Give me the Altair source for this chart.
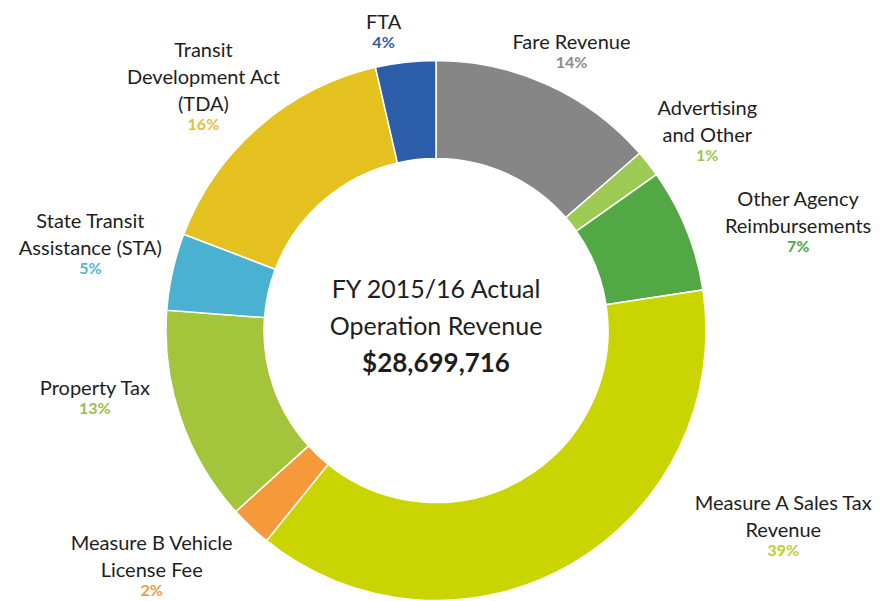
import math
import altair as alt
import pandas as pd

# ---- data -------------------------------------------------------------
categories = [
    "Fare Revenue",
    "Advertising and Other",
    "Other Agency Reimbursements",
    "Measure A Sales Tax Revenue",
    "Measure B Vehicle License Fee",
    "Property Tax",
    "State Transit Assistance (STA)",
    "Transit Development Act (TDA)",
    "FTA",
]
shares = [13.6, 1.6, 7.4, 38.2, 2.5, 12.9, 4.6, 15.6, 3.6]
pct_labels = ["14%", "1%", "7%", "39%", "2%", "13%", "5%", "16%", "4%"]
label_text = [
    "Fare Revenue",
    "Advertising\nand Other",
    "Other Agency\nReimbursements",
    "Measure A Sales Tax\nRevenue",
    "Measure B Vehicle\nLicense Fee",
    "Property Tax",
    "State Transit\nAssistance (STA)",
    "Transit\nDevelopment Act\n(TDA)",
    "FTA",
]
center_lines = ["FY 2015/16 Actual", "Operation Revenue", "$28,699,716"]

# ---- styling / layout -------------------------------------------------
slice_colors = ["#868686", "#9dca52", "#52a845", "#c9d400", "#f5993a",
                "#a3c43b", "#4ab1d1", "#e5c120", "#2d5ea9"]
pct_colors = ["#8c8c8c", "#9cc54f", "#4fa64a", "#c2cc1c", "#ef9a45",
              "#99c044", "#56b3d3", "#e3bf32", "#2f5fa8"]
label_angle = [26.0, 55.8, 75.5, 121.2, 228.6, 258.6, 281.7, 312.8, 350.0]
label_radius = [309, 328, 374, 406, 379, 348, 353, 317, 302]

CX, CY = 428, 322.5
FONT = "Lato"
LH = 27

df = pd.DataFrame({
    "idx": list(range(len(categories))),
    "category": categories,
    "share": shares,
    "pct": pct_labels,
    "label": label_text,
    "nlines": [t.count("\n") + 1 for t in label_text],
    "label_angle": label_angle,
    "label_radius": label_radius,
})

base = alt.Chart(df)

arcs = base.mark_arc(innerRadius=172, outerRadius=270, stroke="white",
                     strokeWidth=1.5).encode(
    theta=alt.Theta("share:Q", stack=True),
    order=alt.Order("idx:Q"),
    color=alt.Color("category:N", scale=alt.Scale(domain=categories, range=slice_colors), legend=None),
    x=alt.value(CX),
    y=alt.value(CY),
)

theta_lbl = alt.Theta("label_angle:Q", stack=False,
                      scale=alt.Scale(domain=[0, 360], range=[0, 2 * math.pi]))

name_layers = []
for n in (1, 2, 3):
    name_layers.append(
        base.transform_filter(f"datum.nlines == {n}").mark_text(
            lineBreak="\n", baseline="bottom", align="center",
            font=FONT, fontSize=20, lineHeight=LH, dy=-(n - 1) * LH,
            color="#1e1e1e").encode(
            theta=theta_lbl,
            radius=alt.Radius("label_radius:Q", scale=None),
            text="label:N",
            x=alt.value(CX),
            y=alt.value(CY),
        )
    )

pcts = base.mark_text(baseline="top", align="center", dy=2, font=FONT,
                      fontSize=16, fontWeight="bold").encode(
    theta=theta_lbl,
    radius=alt.Radius("label_radius:Q", scale=None),
    text="pct:N",
    color=alt.Color("category:N", scale=alt.Scale(domain=categories, range=pct_colors), legend=None),
    x=alt.value(CX),
    y=alt.value(CY),
)

cdf = pd.DataFrame({"t": center_lines})
center_y = [282, 319, 356]
center_layers = []
for i, t in enumerate(center_lines):
    center_layers.append(
        alt.Chart(cdf).transform_filter(alt.datum.t == t).mark_text(
            font=FONT, fontSize=26 if i == 2 else 25,
            fontWeight="bold" if i == 2 else "normal",
            baseline="middle", align="center", color="#1e1e1e"
        ).encode(text="t:N", x=alt.value(CX), y=alt.value(center_y[i]))
    )

chart = alt.layer(arcs, *name_layers, pcts, *center_layers).resolve_scale(
    theta="independent", color="independent"
).properties(width=860, height=580, padding=0).configure_view(stroke=None)

chart.save("out.html", embed_options={"renderer": "svg", "actions": False})
